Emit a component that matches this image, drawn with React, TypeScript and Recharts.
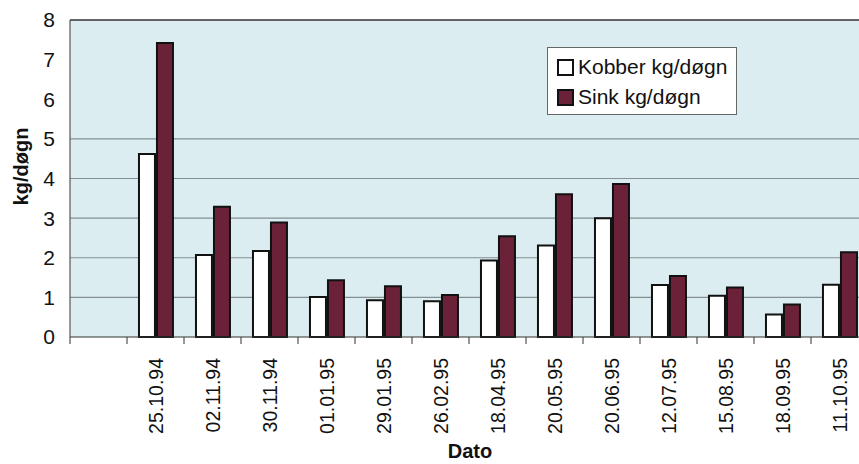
import { BarChart, Bar, XAxis, YAxis, CartesianGrid, Legend, ReferenceLine } from 'recharts';

// første kategori er tom i originalen
const dates = ['', '25.10.94', '02.11.94', '30.11.94', '01.01.95', '29.01.95', '26.02.95', '18.04.95', '20.05.95', '20.06.95', '12.07.95', '15.08.95', '18.09.95', '11.10.95'];
const kobber = [null, 4.62, 2.07, 2.17, 1.01, 0.93, 0.9, 1.93, 2.31, 3.0, 1.31, 1.04, 0.57, 1.32];
const sink = [null, 7.42, 3.29, 2.89, 1.43, 1.28, 1.06, 2.54, 3.6, 3.86, 1.54, 1.25, 0.82, 2.14];
const yTicks = [0, 1, 2, 3, 4, 5, 6, 7, 8];
const gridValues = [1, 2, 3, 4, 5];

const data = dates.map((d, i) => ({ date: d, kobber: kobber[i], sink: sink[i] }));

const FONT = '"Liberation Sans", Arial, sans-serif';
const SINK_COLOR = '#6b2238';

const DateTick = (props: any) => {
  const { x, y, payload } = props;
  const half = payload.offset || 0;
  return (
    <g>
      <line x1={x - half} x2={x - half} y1={y - 8} y2={y - 1} stroke="#333" strokeWidth={1} />
      <text
        x={x}
        y={y + 13}
        transform={`rotate(-90, ${x}, ${y + 13})`}
        textAnchor="end"
        dominantBaseline="central"
        fontSize={19.5}
        fontFamily={FONT}
        fill="#111"
      >
        {payload.value}
      </text>
    </g>
  );
};

const YLabel = (props: any) => {
  const { viewBox } = props;
  const cy = viewBox.y + viewBox.height / 2 - 12;
  return (
    <text
      x={21}
      y={cy}
      transform={`rotate(-90, 21, ${cy})`}
      textAnchor="middle"
      dominantBaseline="central"
      fontSize={20}
      fontWeight="bold"
      fontFamily={FONT}
      fill="#111"
    >
      kg/døgn
    </text>
  );
};

const LegendBox = ({ payload }: any) => (
  <div
    style={{
      width: 190,
      height: 68,
      background: '#fff',
      border: '1px solid #666',
      fontFamily: FONT,
      fontSize: 21,
      color: '#111',
      boxSizing: 'border-box',
      padding: '4px 0 0 9px',
    }}
  >
    {(payload || []).map((p: any) => (
      <div key={p.value} style={{ display: 'flex', alignItems: 'center', height: 30 }}>
        <span
          style={{
            width: 13,
            height: 13,
            border: '2px solid #111',
            background: p.dataKey === 'sink' ? SINK_COLOR : '#fff',
            marginRight: 4,
            display: 'inline-block',
          }}
        />
        {p.value}
      </div>
    ))}
  </div>
);

export default function App() {
  return (
    <div style={{ position: 'absolute', left: 0, top: 0, width: 859, height: 464, overflow: 'hidden', background: '#fff' }}>
      <BarChart
        width={900}
        height={464}
        data={data}
        margin={{ top: 20, right: 32, left: 0, bottom: 27 }}
        barCategoryGap="21%"
        barGap={2}
      >
        <CartesianGrid
          vertical={false}
          horizontalValues={gridValues}
          stroke="#848f91"
          strokeWidth={1.2}
          fill="#dbedf0"
        />
        <ReferenceLine y={8} stroke="#333" strokeWidth={1.5} />
        <XAxis
          dataKey="date"
          interval={0}
          height={100}
          tickLine={false}
          axisLine={{ stroke: '#333', strokeWidth: 1.2 }}
          tick={<DateTick />}
          label={{ value: 'Dato', position: 'insideBottom', offset: -21, dx: 1, fontSize: 20, fontWeight: 'bold', fontFamily: FONT, fill: '#111' }}
        />
        <YAxis
          width={70}
          domain={[0, 8]}
          ticks={yTicks}
          interval={0}
          tickLine={false}
          tickSize={6}
          tickMargin={9}
          axisLine={{ stroke: '#555', strokeWidth: 1.2 }}
          tick={{ fontSize: 21, fontFamily: FONT, fill: '#111' }}
          label={<YLabel />}
        />
        <Legend
          layout="vertical"
          align="center"
          verticalAlign="middle"
          wrapperStyle={{ left: 547, top: 47, width: 190 }}
          content={<LegendBox />}
        />
        <Bar dataKey="kobber" name="Kobber kg/døgn" fill="#ffffff" stroke="#111" strokeWidth={2} isAnimationActive={false} />
        <Bar dataKey="sink" name="Sink kg/døgn" fill={SINK_COLOR} stroke="#111" strokeWidth={2} isAnimationActive={false} />
      </BarChart>
    </div>
  );
}
